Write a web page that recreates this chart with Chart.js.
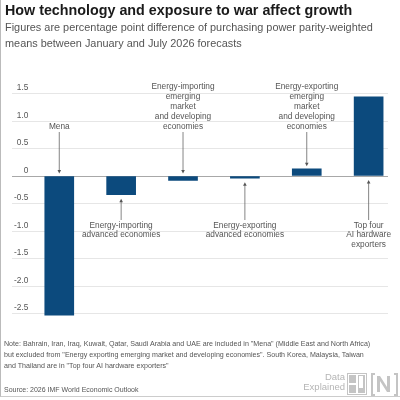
<!DOCTYPE html>
<html>
<head>
<meta charset="utf-8">
<script src="https://cdn.jsdelivr.net/npm/chart.js@4/dist/chart.umd.min.js"></script>
<style>
  html, body { margin: 0; padding: 0; background: #fff; }
  #wrap { position: relative; width: 400px; height: 400px; overflow: hidden;
          font-family: "Liberation Sans", Arial, sans-serif; }
  #wrap .frame { position: absolute; left: 0; top: 0; width: 399px; height: 396px;
          border-left: 1px solid #bbb; border-bottom: 1px solid #ccc; }
  canvas { position: absolute; left: 0; top: 0; }
  .t { position: absolute; white-space: nowrap; }
  #title { left: 5px; top: 2px; font-size: 14.3px; font-weight: bold; color: #1a1a1a; }
  #sub { left: 5px; top: 19px; font-size: 10.9px; line-height: 16px; color: #555; }
  #note { left: 4px; top: 339px; font-size: 7.1px; line-height: 11px; color: #555; }
  #source { left: 4px; top: 386px; font-size: 7px; color: #555; }
  #brand { right: 55px; top: 372px; font-size: 9.5px; line-height: 9.5px; color: #b5b5b5; text-align: right; }
  #logo { position: absolute; left: 347px; top: 373px; }
</style>
</head>
<body>
<div id="wrap">
  <div class="frame"></div>
  <canvas id="chart" width="400" height="400"></canvas>
  <div class="t" id="title">How technology and exposure to war affect growth</div>
  <div class="t" id="sub">Figures are percentage point difference of purchasing power parity-weighted<br>means between January and July 2026 forecasts</div>
  <div class="t" id="note">Note: Bahrain, Iran, Iraq, Kuwait, Qatar, Saudi Arabia and UAE are included in "Mena" (Middle East and North Africa)<br>but excluded from "Energy exporting emerging market and developing economies". South Korea, Malaysia, Taiwan<br>and Thailand are in "Top four AI hardware exporters"</div>
  <div class="t" id="source">Source: 2026 IMF World Economic Outlook</div>
  <div class="t" id="brand">Data<br>Explained</div>
  <svg id="logo" width="52" height="23" viewBox="0 0 52 23">
    <rect x="0.5" y="0.5" width="19" height="21" fill="none" stroke="#c4c4c4"/>
    <rect x="2" y="2" width="7" height="8" fill="#c4c4c4"/>
    <rect x="11" y="2" width="7" height="18" fill="#c4c4c4"/>
    <rect x="2" y="12" width="7" height="8" fill="#c4c4c4"/>
    <rect x="12" y="3" width="4" height="12" fill="#fff"/>
    <path d="M28 1 h-3 v21 h3 M47 1 h3 v21 h-3" fill="none" stroke="#c4c4c4" stroke-width="2"/>
    <path d="M30 19 V3 h3 l7 11 V3 h3 v16 h-3 l-7 -11 v11 z" fill="#c4c4c4"/>
  </svg>
</div>
<script>
// data
const categories = [
  ['Mena'],
  ['Energy-importing', 'advanced economies'],
  ['Energy-importing', 'emerging', 'market', 'and developing', 'economies'],
  ['Energy-exporting', 'advanced economies'],
  ['Energy-exporting', 'emerging', 'market', 'and developing', 'economies'],
  ['Top four', 'AI hardware', 'exporters']
];
const values = [-2.53, -0.34, -0.08, -0.04, 0.13, 1.44];
const labelSide = ['above', 'below', 'above', 'below', 'above', 'below'];
const tickValues = [-2.5, -2.0, -1.5, -1.0, -0.5, 0, 0.5, 1.0, 1.5];
const tickLabels = ['-2.5', '-2.0', '-1.5', '-1.0', '-0.5', '0', '0.5', '1.0', '1.5'];

const barColor = '#0c4a7d';
const textColor = '#555';

function arrow(ctx, x, y1, y2) {
  // line from y1 to y2, head at y2
  const dir = y2 > y1 ? 1 : -1;
  ctx.beginPath();
  ctx.moveTo(x, y1);
  ctx.lineTo(x, y2 - dir * 3);
  ctx.stroke();
  ctx.beginPath();
  ctx.moveTo(x, y2);
  ctx.lineTo(x - 1.8, y2 - dir * 3.5);
  ctx.lineTo(x + 1.8, y2 - dir * 3.5);
  ctx.closePath();
  ctx.fill();
}

const annotations = {
  id: 'annotations',
  afterDatasetsDraw(chart) {
    const ctx = chart.ctx;
    const y = chart.scales.y;
    const zero = y.getPixelForValue(0);
    const bars = chart.getDatasetMeta(0).data;
    ctx.save();
    ctx.font = '8.3px "Liberation Sans", Arial, sans-serif';
    ctx.fillStyle = textColor;
    ctx.strokeStyle = '#666';
    ctx.lineWidth = 0.8;
    ctx.textAlign = 'center';
    ctx.textBaseline = 'middle';
    bars.forEach((bar, i) => {
      const lines = categories[i];
      const top = Math.min(bar.y, zero);
      const bottom = Math.max(bar.y, zero);
      if (labelSide[i] === 'above') {
        const last = 126.5;
        lines.forEach((l, k) => ctx.fillText(l, bar.x, last - (lines.length - 1 - k) * 10));
        arrow(ctx, bar.x, last + 5.5, top - 2.5);
      } else {
        const first = 225.5;
        lines.forEach((l, k) => ctx.fillText(l, bar.x, first + k * 9.7));
        arrow(ctx, bar.x, first - 5.5, bottom + 4);
      }
    });
    ctx.restore();
  }
};

new Chart(document.getElementById('chart'), {
  type: 'bar',
  data: {
    datasets: [{
      data: values.map((v, i) => ({ x: i, y: v })),
      backgroundColor: barColor,
      barThickness: 29,
      borderWidth: 0
    }]
  },
  options: {
    responsive: false,
    animation: false,
    layout: { padding: { left: 8, right: 12, top: 82.5, bottom: 81 } },
    plugins: { legend: { display: false }, tooltip: { enabled: false } },
    scales: {
      x: {
        type: 'linear',
        offset: false,
        min: -0.764,
        max: 5.313,
        display: false,
        grid: { display: false }
      },
      y: {
        min: -2.6,
        max: 1.7,
        afterBuildTicks: s => { s.ticks = tickValues.map(v => ({ value: v })); },
        border: { display: false },
        grid: {
          drawTicks: false,
          color: ctx => ctx.tick && ctx.tick.value === 0 ? '#a8a8a8' : '#e6e6e6',
          lineWidth: 1
        },
        ticks: {
          mirror: true,
          crossAlign: 'far',
          padding: 2,
          labelOffset: -5.5,
          color: textColor,
          font: { family: '"Liberation Sans", Arial, sans-serif', size: 8.3 },
          callback: (v, i) => tickLabels[tickValues.indexOf(v)]
        }
      }
    }
  },
  plugins: [annotations]
});
</script>
</body>
</html>
